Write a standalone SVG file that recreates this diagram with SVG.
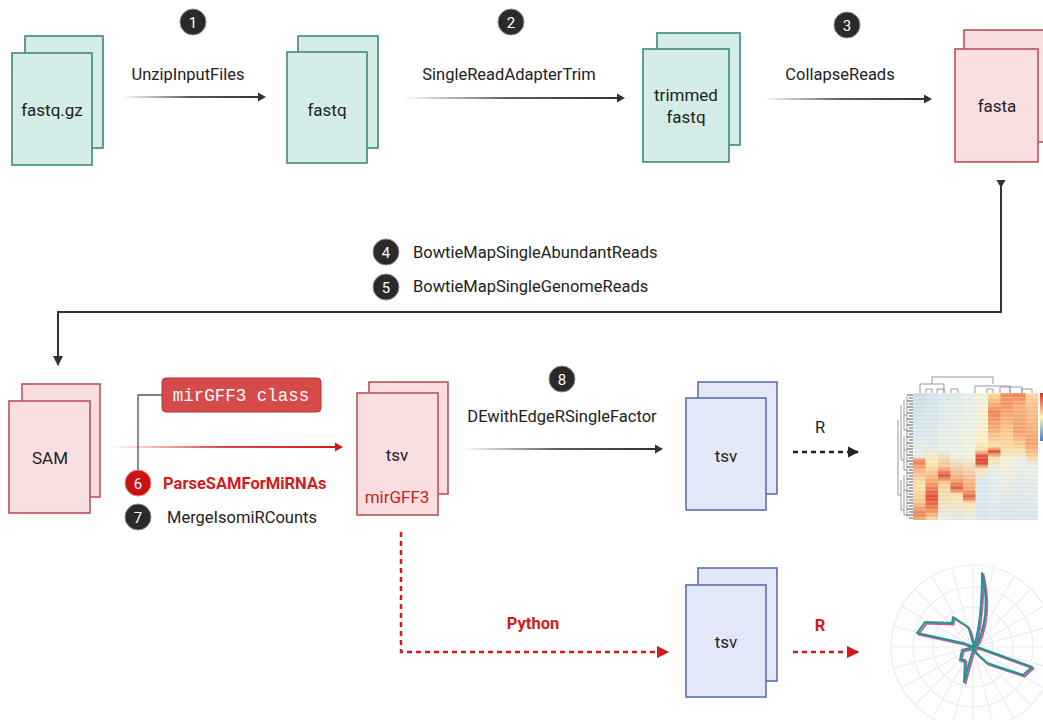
<svg xmlns="http://www.w3.org/2000/svg" width="1043" height="720" viewBox="0 0 1043 720">
<style>
text{font-family:Roboto,"Liberation Sans",sans-serif;fill:#222}
.lbl{font-size:16.5px;text-anchor:middle}
.lbs{font-size:16.5px}
.nt{font-size:17px;text-anchor:middle}
.teal{fill:#d5ede8;stroke:#3d8a78;stroke-width:1.6}
.pink{fill:#f9dfe0;stroke:#c0505a;stroke-width:1.6}
.blue{fill:#e3e8f8;stroke:#5b6fae;stroke-width:1.6}
.num{fill:#2a2a2a;stroke:#8a8a8a;stroke-width:1}
.numt{font-size:15px;fill:#fff;text-anchor:middle}
.conn{fill:none;stroke:#333;stroke-width:2}
.rdash{fill:none;stroke:#d41a1a;stroke-width:2.5;stroke-dasharray:5 4}
.kdash{fill:none;stroke:#222;stroke-width:2.5;stroke-dasharray:5 4}
.grid{fill:none;stroke:#ececec;stroke-width:1.2}
.dg{fill:none;stroke:#999;stroke-width:1}
</style>
<defs>
<linearGradient id="gk" x1="0" y1="0" x2="1" y2="0"><stop offset="0" stop-color="#333" stop-opacity="0"/><stop offset="0.5" stop-color="#333" stop-opacity="0.8"/><stop offset="1" stop-color="#333"/></linearGradient>
<linearGradient id="gr" x1="0" y1="0" x2="1" y2="0"><stop offset="0" stop-color="#d41a1a" stop-opacity="0"/><stop offset="0.5" stop-color="#d41a1a" stop-opacity="0.8"/><stop offset="1" stop-color="#d41a1a"/></linearGradient>
<marker id="ak" viewBox="0 0 10 10" refX="9" refY="5" markerWidth="5" markerHeight="5" orient="auto"><path d="M0,0 L10,5 L0,10 z" fill="#333"/></marker>
<marker id="ar" viewBox="0 0 10 10" refX="9" refY="5" markerWidth="5" markerHeight="5" orient="auto"><path d="M0,0 L10,5 L0,10 z" fill="#d41a1a"/></marker>
<marker id="ak2" viewBox="0 0 10 10" refX="9" refY="5" markerWidth="4.5" markerHeight="4.5" orient="auto"><path d="M0,0 L10,5 L0,10 z" fill="#222"/></marker>
<pattern id="stripes" x="0" y="393" width="20" height="4" patternUnits="userSpaceOnUse"><rect x="0" y="0" width="20" height="1.3" fill="#fff" fill-opacity="0.22"/><rect x="0" y="2" width="20" height="0.8" fill="#c86" fill-opacity="0.08"/></pattern>
<linearGradient id="c0" x1="0" y1="0" x2="0" y2="1"><stop offset="0" stop-color="#c9dfec"/><stop offset="0.3" stop-color="#d7e8ee"/><stop offset="0.5" stop-color="#e8f0e6"/><stop offset="0.54" stop-color="#ec7a4a"/><stop offset="0.6" stop-color="#f6b27a"/><stop offset="0.72" stop-color="#fbe4b0"/><stop offset="0.86" stop-color="#f9c690"/><stop offset="0.95" stop-color="#ec7f50"/><stop offset="1" stop-color="#f4b080"/></linearGradient>
<linearGradient id="c1" x1="0" y1="0" x2="0" y2="1"><stop offset="0" stop-color="#d2e4ee"/><stop offset="0.4" stop-color="#dce9ec"/><stop offset="0.55" stop-color="#fde9b5"/><stop offset="0.7" stop-color="#f4a46d"/><stop offset="0.82" stop-color="#e0492f"/><stop offset="0.9" stop-color="#ee7b4c"/><stop offset="1" stop-color="#fbd9a0"/></linearGradient>
<linearGradient id="c2" x1="0" y1="0" x2="0" y2="1"><stop offset="0" stop-color="#dbe9ee"/><stop offset="0.45" stop-color="#e6efe8"/><stop offset="0.58" stop-color="#f8c38a"/><stop offset="0.65" stop-color="#e0503a"/><stop offset="0.71" stop-color="#f9d19a"/><stop offset="1" stop-color="#e8f0e6"/></linearGradient>
<linearGradient id="c3" x1="0" y1="0" x2="0" y2="1"><stop offset="0" stop-color="#dfebea"/><stop offset="0.5" stop-color="#eaf1e4"/><stop offset="0.68" stop-color="#f5ac72"/><stop offset="0.75" stop-color="#e05a3c"/><stop offset="0.8" stop-color="#fce2a8"/><stop offset="1" stop-color="#dde9ec"/></linearGradient>
<linearGradient id="c4" x1="0" y1="0" x2="0" y2="1"><stop offset="0" stop-color="#e4eee8"/><stop offset="0.5" stop-color="#f1f3dc"/><stop offset="0.76" stop-color="#f3a46c"/><stop offset="0.82" stop-color="#e4603e"/><stop offset="0.87" stop-color="#fde6b0"/><stop offset="1" stop-color="#e3edea"/></linearGradient>
<linearGradient id="c5" x1="0" y1="0" x2="0" y2="1"><stop offset="0" stop-color="#eef2dc"/><stop offset="0.38" stop-color="#f7f0c8"/><stop offset="0.45" stop-color="#fbe0a4"/><stop offset="0.49" stop-color="#e5593b"/><stop offset="0.55" stop-color="#dc402c"/><stop offset="0.6" stop-color="#fbe7b8"/><stop offset="0.7" stop-color="#dbe9ee"/><stop offset="1" stop-color="#d6e6ee"/></linearGradient>
<linearGradient id="c6" x1="0" y1="0" x2="0" y2="1"><stop offset="0" stop-color="#fbe1a5"/><stop offset="0.15" stop-color="#ef8652"/><stop offset="0.3" stop-color="#f5b27a"/><stop offset="0.42" stop-color="#fce5b0"/><stop offset="0.46" stop-color="#e04a32"/><stop offset="0.51" stop-color="#fae2b0"/><stop offset="0.6" stop-color="#e4eee8"/><stop offset="1" stop-color="#dbe9ee"/></linearGradient>
<linearGradient id="c7" x1="0" y1="0" x2="0" y2="1"><stop offset="0" stop-color="#f08a55"/><stop offset="0.15" stop-color="#f3a26a"/><stop offset="0.3" stop-color="#f9c890"/><stop offset="0.42" stop-color="#fbd8a0"/><stop offset="0.52" stop-color="#f5f0d8"/><stop offset="1" stop-color="#d5e6ee"/></linearGradient>
<linearGradient id="c8" x1="0" y1="0" x2="0" y2="1"><stop offset="0" stop-color="#ec7a48"/><stop offset="0.1" stop-color="#f7b07a"/><stop offset="0.3" stop-color="#f4a06a"/><stop offset="0.45" stop-color="#fbe0a8"/><stop offset="0.52" stop-color="#e9f0e6"/><stop offset="1" stop-color="#d6e6ee"/></linearGradient>
<linearGradient id="c9" x1="0" y1="0" x2="0" y2="1"><stop offset="0" stop-color="#fbd9a0"/><stop offset="0.1" stop-color="#f8c08a"/><stop offset="0.25" stop-color="#f7b57f"/><stop offset="0.4" stop-color="#f3a06a"/><stop offset="0.5" stop-color="#f9cf98"/><stop offset="0.56" stop-color="#e8f0e6"/><stop offset="1" stop-color="#d8e7ee"/></linearGradient>
<linearGradient id="cb" x1="0" y1="0" x2="0" y2="1"><stop offset="0" stop-color="#d73027"/><stop offset="0.5" stop-color="#fdf5c0"/><stop offset="1" stop-color="#4a7fc0"/></linearGradient>
</defs>

<!-- nodes -->
<g id="n-fastqgz"><rect class="teal" x="25" y="36" width="78" height="112"/><rect class="teal" x="12" y="53" width="80" height="112"/><text class="nt" x="52" y="116">fastq.gz</text></g>
<g id="n-fastq"><rect class="teal" x="298" y="36" width="80" height="112"/><rect class="teal" x="287" y="52" width="80" height="111"/><text class="nt" x="327" y="116">fastq</text></g>
<g id="n-trimmed"><rect class="teal" x="657" y="33" width="83" height="112"/><rect class="teal" x="643" y="49" width="86" height="113"/><text class="nt" x="686" y="101">trimmed</text><text class="nt" x="686" y="123">fastq</text></g>
<g id="n-fasta"><rect class="pink" x="964" y="30" width="90" height="112"/><rect class="pink" x="955" y="49" width="83" height="113"/><text class="nt" x="997" y="112">fasta</text></g>
<g id="n-sam"><rect class="pink" x="22" y="384" width="78" height="113"/><rect class="pink" x="9" y="401" width="81" height="112"/><text class="nt" x="50" y="464">SAM</text></g>
<g id="n-tsv-mirgff3"><rect class="pink" x="369" y="382" width="79" height="112"/><rect class="pink" x="357" y="393" width="81" height="122"/><text class="nt" x="397" y="461">tsv</text><text class="nt" x="397" y="503" style="fill:#d41a1a">mirGFF3</text></g>
<g id="n-tsv-de"><rect class="blue" x="698" y="382" width="79" height="112"/><rect class="blue" x="686" y="398" width="80" height="112"/><text class="nt" x="726" y="462">tsv</text></g>
<g id="n-tsv-py"><rect class="blue" x="698" y="568" width="79" height="113"/><rect class="blue" x="686" y="585" width="80" height="112"/><text class="nt" x="726" y="648">tsv</text></g>

<g id="n-mirgff3class"><rect x="162" y="378" width="159" height="34" rx="4" fill="#d64a4a" stroke="#b53535"/><text x="241" y="401" style="font-family:'Liberation Mono','DejaVu Sans Mono',monospace;font-size:17.5px;fill:#fff;text-anchor:middle">mirGFF3 class</text></g>

<!-- heatmap -->
<g id="n-heatmap">
<path class="dg" d="M932,384 V377 H993 V384 M920,393 V384 H944 V393 M944,393 V389 H937 V393 M951,393 V389 H958 M958,393 V389 M975,393 V386 H1010 V393 M1010,393 V386 M1000,393 V387 H1022 V393 M1022,393 V389 H1032 V393 M987,393 V389 H993 V393 M932,389 V393 M926,393 V389 H932"/>
<rect x="913" y="393" width="13" height="127" fill="url(#c0)"/>
<rect x="925.5" y="393" width="13" height="127" fill="url(#c1)"/>
<rect x="938" y="393" width="13" height="127" fill="url(#c2)"/>
<rect x="950.5" y="393" width="13" height="127" fill="url(#c3)"/>
<rect x="963" y="393" width="13" height="127" fill="url(#c4)"/>
<rect x="975.5" y="393" width="13" height="127" fill="url(#c5)"/>
<rect x="988" y="393" width="13" height="127" fill="url(#c6)"/>
<rect x="1000.5" y="393" width="13" height="127" fill="url(#c7)"/>
<rect x="1013" y="393" width="13" height="127" fill="url(#c8)"/>
<rect x="1025.5" y="393" width="12.5" height="127" fill="url(#c9)"/>
<rect x="913" y="393" width="125" height="127" fill="url(#stripes)"/>
<rect x="1040" y="393" width="4" height="48" fill="url(#cb)"/>
<path fill="none" stroke="#444" stroke-width="0.9" d="M907,395 H913 M909,398 H913 M907,401 H913 M909,404 H913 M907,407 H913 M909,410 H913 M907,413 H913 M909,416 H913 M907,419 H913 M909,422 H913 M907,425 H913 M909,428 H913 M907,431 H913 M909,434 H913 M907,437 H913 M909,440 H913 M907,443 H913 M909,446 H913 M907,449 H913 M909,452 H913 M907,455 H913 M909,458 H913 M907,461 H913 M909,464 H913 M907,467 H913 M909,470 H913 M907,473 H913 M909,476 H913 M907,479 H913 M909,482 H913 M907,485 H913 M909,488 H913 M907,491 H913 M909,494 H913 M907,497 H913 M909,500 H913 M907,503 H913 M909,506 H913 M907,509 H913 M909,512 H913 M907,515 H913 M909,518 H913"/>
<path class="dg" stroke="#777" d="M907,396 V517 M904,400 V430 H907 M904,436 V470 H907 M904,475 V515 H907 M901,405 V460 H904 M901,480 V510 H904 M898,420 V495 H901 M904,415 H907 M904,450 H907 M904,490 H907"/>
</g>

<!-- polar -->
<g id="n-polar">
<circle class="grid" cx="973" cy="647" r="20"/><circle class="grid" cx="973" cy="647" r="40"/><circle class="grid" cx="973" cy="647" r="60"/><circle class="grid" cx="973" cy="647" r="82"/>
<path class="grid" d="M973,565 V729 M891,647 H1055 M932,576 L1014,718 M902,606 L1044,688 M902,688 L1044,606 M932,718 L1014,576 M952,568 L994,726 M894,626 L1052,668 M894,668 L1052,626 M952,726 L994,568 M915,589 L1031,705 M915,705 L1031,589"/>
<g fill="none" stroke-width="2" stroke-linejoin="round">
<path stroke="#b8337e" stroke-opacity="0.8" transform="translate(1.5,1.5)" d="M974,647 Q982,620 982,573 Q991,612 978,642 L974,647 L970,632 L968,627 L962,623 L953,617 L952,623 L925,622 L917,633 L940,638 L963,643 L974,647 L980,648 L1032,667 L1023,675 L987,663 L975,652 L974,647 L970,660 L964,682 L965,660 L960,660 L962,650 Z"/>
<path stroke="#1c9892" d="M974,647 Q982,620 982,573 Q991,612 978,642 L974,647 L970,632 L968,627 L962,623 L953,617 L952,623 L925,622 L917,633 L940,638 L963,643 L974,647 L980,648 L1032,667 L1023,675 L987,663 L975,652 L974,647 L970,660 L964,682 L965,660 L960,660 L962,650 Z"/>
</g>
</g>

<!-- connectors -->
<g id="connectors">
<rect x="122" y="96" width="138" height="2" fill="url(#gk)"/><path d="M258,92.5 L266,97 L258,101.5 z" fill="#333"/>
<rect x="402" y="97" width="217" height="2" fill="url(#gk)"/><path d="M617,93.5 L625,98 L617,102.5 z" fill="#333"/>
<rect x="762" y="98" width="164" height="2" fill="url(#gk)"/><path d="M924,94.5 L932,99 L924,103.5 z" fill="#333"/>
<path d="M996.5,180 H1005.5 L1001,188 z" fill="#333"/>
<path class="conn" d="M1001,186 V312 H58 V365" marker-end="url(#ak)"/>
<rect x="110" y="446" width="227" height="2" fill="url(#gr)"/><path d="M335,442.5 L343,447 L335,451.5 z" fill="#d41a1a"/>
<path fill="none" stroke="#555" stroke-width="1.3" d="M162,395 H138 V471"/>
<rect x="462" y="448" width="195" height="2" fill="url(#gk)"/><path d="M655,444.5 L663,449 L655,453.5 z" fill="#333"/>
<path class="kdash" d="M793,452 H858" marker-end="url(#ak2)"/>
<path class="rdash" d="M401,532 V652 H668" marker-end="url(#ar)"/>
<path class="rdash" d="M793,652 H858" marker-end="url(#ar)"/>
</g>

<!-- labels -->
<g id="labels">
<text class="lbl" x="188" y="80">UnzipInputFiles</text>
<text class="lbl" x="509" y="80">SingleReadAdapterTrim</text>
<text class="lbl" x="840" y="80">CollapseReads</text>
<text class="lbs" x="413" y="258">BowtieMapSingleAbundantReads</text>
<text class="lbs" x="413" y="292">BowtieMapSingleGenomeReads</text>
<text class="lbs" x="163" y="489" style="fill:#d41a1a;font-weight:bold">ParseSAMForMiRNAs</text>
<text class="lbs" x="167" y="523">MergeIsomiRCounts</text>
<text class="lbl" x="562" y="422">DEwithEdgeRSingleFactor</text>
<text class="lbl" x="820" y="433">R</text>
<text class="lbl" x="820" y="631" style="fill:#d41a1a;font-weight:bold">R</text>
<text class="lbl" x="533" y="629" style="fill:#d41a1a;font-weight:bold">Python</text>
</g>

<!-- step numbers -->
<g id="steps">
<circle class="num" cx="193" cy="22" r="13"/><text class="numt" x="193" y="27.5">1</text>
<circle class="num" cx="511" cy="22" r="13"/><text class="numt" x="511" y="27.5">2</text>
<circle class="num" cx="847" cy="25" r="13"/><text class="numt" x="847" y="30.5">3</text>
<circle class="num" cx="386" cy="252" r="13"/><text class="numt" x="386" y="257.5">4</text>
<circle class="num" cx="386" cy="287" r="13"/><text class="numt" x="386" y="292.5">5</text>
<circle cx="138" cy="483" r="13" fill="#cc1111" stroke="#e88" stroke-width="1"/><text class="numt" x="138" y="488.5">6</text>
<circle class="num" cx="138" cy="517" r="13"/><text class="numt" x="138" y="522.5">7</text>
<circle class="num" cx="562" cy="379" r="13"/><text class="numt" x="562" y="384.5">8</text>
</g>
</svg>
